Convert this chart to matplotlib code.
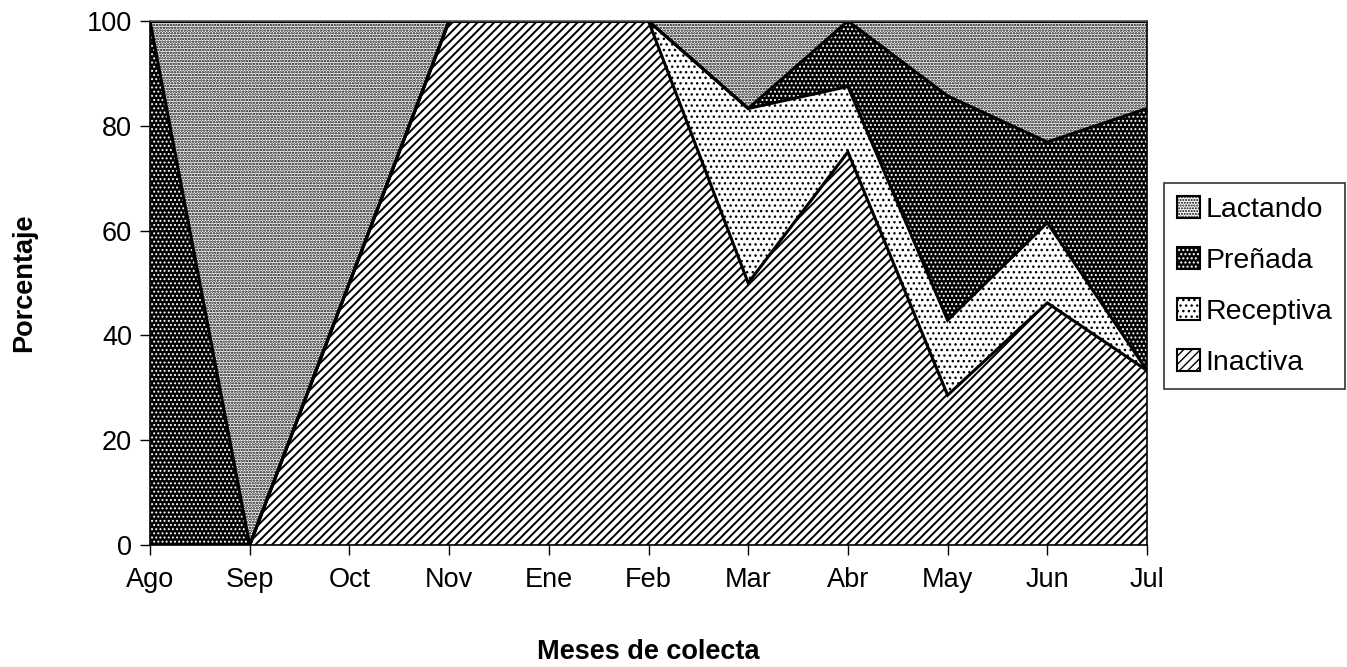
import matplotlib.pyplot as plt
import matplotlib.patches as mpatches
from matplotlib.legend_handler import HandlerTuple
import numpy as np

plt.rcParams['font.family'] = ['Liberation Sans', 'DejaVu Sans']

# Meses de colecta y porcentajes por estado reproductivo
meses = ['Ago', 'Sep', 'Oct', 'Nov', 'Ene', 'Feb', 'Mar', 'Abr', 'May', 'Jun', 'Jul']
inactiva = [0, 0, 50, 100, 100, 100, 50, 75, 28.6, 46.2, 33.3]
receptiva = [0, 0, 0, 0, 0, 0, 33.3, 12.5, 14.3, 15.3, 0]
prenada = [100, 0, 0, 0, 0, 0, 0, 12.5, 42.8, 15.4, 50]
lactando = [0, 100, 50, 0, 0, 0, 16.7, 0, 14.3, 23.1, 16.7]

x = np.arange(len(meses))
# nombre, valores, fondo, color de trama, trama, grosor de trama
capas = [
    ('Inactiva', inactiva, 'white', 'black', '////', 1.4),
    ('Receptiva', receptiva, 'white', 'black', '...', 1.0),
    ('Preñada', prenada, 'black', 'white', '....', 0.9),
    ('Lactando', lactando, 'white', 'black', '......', 1.2),
]

fig = plt.figure(figsize=(13.47, 6.67), dpi=100)
ax = fig.add_axes([150 / 1347, 1 - 545 / 667, 997 / 1347, 524 / 667])

base = np.zeros(len(meses))
handles = []
for nombre, vals, fc, hc, hatch, hlw in capas:
    tope = base + np.array(vals)
    with plt.rc_context({'hatch.linewidth': hlw}):
        ax.fill_between(x, base, tope, facecolor=fc, edgecolor=hc, hatch=hatch, linewidth=0)
        relleno = mpatches.Patch(facecolor=fc, edgecolor=hc, hatch=hatch, linewidth=0)
    ax.plot(x, tope, color='black', linewidth=2.2, solid_joinstyle='miter')
    borde = mpatches.Patch(facecolor='none', edgecolor='black', linewidth=1.5)
    handles.append(((relleno, borde), nombre))
    base = tope

ax.set_xlim(0, len(meses) - 1)
ax.set_ylim(0, 100)
ax.set_xticks(x)
ax.set_xticklabels(meses)
ax.set_yticks(range(0, 101, 20))
ax.tick_params(axis='both', labelsize=19.5, length=7, width=1, direction='out')
ax.tick_params(axis='x', pad=9)
ax.tick_params(axis='y', pad=6)
for s in ax.spines.values():
    s.set_linewidth(1.2)
ax.spines['top'].set_color('#555555')

ax.set_xlabel('Meses de colecta', fontsize=19.5, fontweight='bold', labelpad=33)
ax.set_ylabel('Porcentaje', fontsize=19.5, fontweight='bold', labelpad=36)

# Leyenda en orden inverso
handles = handles[::-1]
leg = fig.legend([h for h, _ in handles], [n for _, n in handles],
                 handler_map={tuple: HandlerTuple(ndivide=1, pad=0)},
                 loc='center left', bbox_to_anchor=(1164 / 1347, 1 - 286 / 667),
                 fontsize=20.5, frameon=True, fancybox=False, edgecolor='black',
                 handlelength=0.8, handleheight=0.8, handletextpad=0.2,
                 labelspacing=0.85, borderpad=0.45, borderaxespad=0)
leg.get_frame().set_linewidth(1.2)

plt.savefig('out.png', dpi=100)
